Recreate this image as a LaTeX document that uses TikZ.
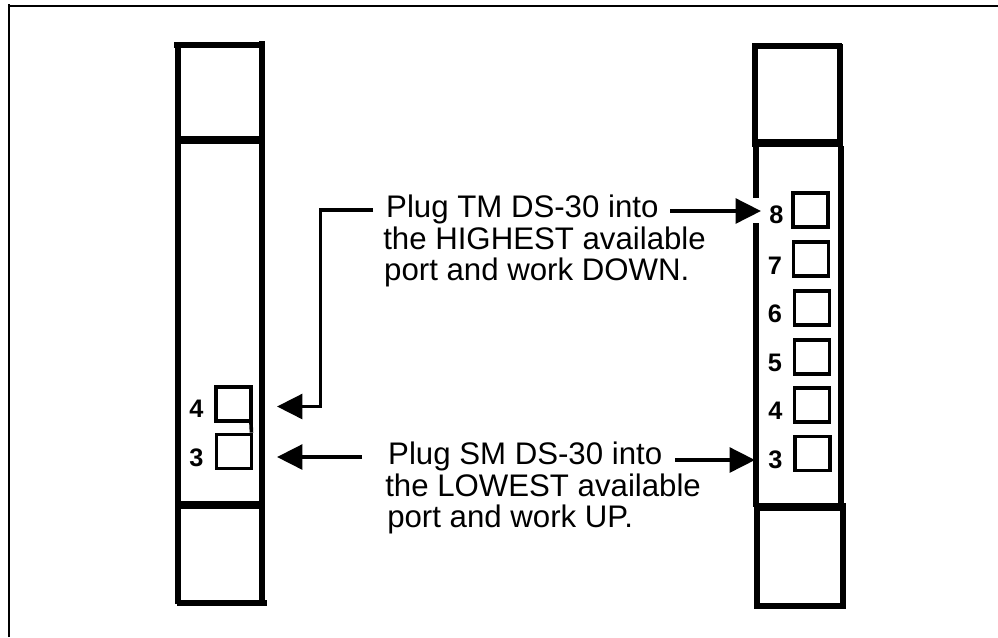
\documentclass[tikz,border=0pt]{standalone}
\usepackage{fontspec}
\setmainfont{Liberation Sans}
\usetikzlibrary{arrows.meta}
\tikzset{
  x=0.75pt,y=-0.75pt,
  frame/.style={line width=1.6pt,line cap=butt},
  rack/.style={line width=4.5pt,line cap=butt},
  divider/.style={line width=6pt,line cap=butt},
  port/.style={draw,line width=2.7pt,minimum width=26.2pt,minimum height=25.6pt,inner sep=0pt},
  num/.style={font=\bfseries\fontsize{19}{21}\selectfont,inner sep=0pt},
  note/.style={font=\fontsize{23.4}{23.4}\selectfont,align=left,inner sep=0pt,anchor=north west},
  wire/.style={line width=2.7pt,line cap=butt},
  conn/.style={wire,-{Triangle[length=19pt,width=18.5pt,sep=0pt]}}
}
\begin{document}
\begin{tikzpicture}
\useasboundingbox (0,0) rectangle (998,637);
% outer frame
\draw[frame] (9.3,637) -- (9.3,4) (8.5,6) -- (998,6);
% left rack
\draw[rack] (174,45) -- (262,45);
\draw[rack] (178,44) -- (178,604);
\draw[rack] (262,41) -- (262,604);
\draw[divider] (175,140) -- (265,140);
\draw[divider] (175,505) -- (265,505);
\draw[rack] (177,603) -- (267,603);
% right rack
\draw[rack] (752,46) -- (842,46);
\draw[rack] (754.5,44) -- (754.5,146);
\draw[rack] (756,146) -- (756,198);
\draw[rack] (756,223) -- (756,507);
\draw[rack] (757,507) -- (757,606);
\draw[rack] (839.5,44) -- (839.5,146);
\draw[rack] (840.5,146) -- (840.5,507);
\draw[rack] (842.5,507) -- (842.5,606);
\draw[divider] (752,142.5) -- (843,142.5);
\draw[divider] (754,507) -- (846,507);
\draw[rack] (754,605.5) -- (846,605.5);
% left ports
\node[port] (L4) at (233.5,404) {};
\node[port] (L3) at (234,451.5) {};
\draw[wire] ([xshift=-1.35pt]L4.south east) -- ([xshift=-1.35pt]L3.north east);
\node[num] (L4n) at (196.5,409) {4};
\node[num] (L3n) at (196.5,457.5) {3};
% right ports
\node[port] (R8) at (810.5,210) {};
\node[port] (R7) at (811,259) {};
\node[port] (R6) at (812,308) {};
\node[port] (R5) at (812,357) {};
\node[port] (R4) at (812,405) {};
\node[port] (R3) at (812.5,453.5) {};
\node[num] (R8n) at (776.5,215) {8};
\node[num] (R7n) at (775,266) {7};
\node[num] (R6n) at (775,314) {6};
\node[num] (R5n) at (775,363) {5};
\node[num] (R4n) at (775.5,411) {4};
\node[num] (R3n) at (775.5,459.5) {3};
% notes
\node[note] (T1) at (383,195) {\hspace{2.2pt}Plug TM DS-30 into\\the HIGHEST available\\\hspace{0.7pt}port and work DOWN.};
\node[note] (T2) at (385,442) {\hspace{2.2pt}Plug SM DS-30 into\\the LOWEST available\\\hspace{1.5pt}port and work UP.};
% connectors
\coordinate (A) at (320.5,210);
\coordinate (B) at (320.5,406.5);
\coordinate (C) at (277,406.5);
\coordinate (D) at (277,457);
\coordinate (E) at (362,457);
\coordinate (F0) at (670,211);
\coordinate (F) at (761,211);
\coordinate (G0) at (675,460);
\coordinate (G) at (755,460);
\coordinate (H) at (373,210);
\draw[conn] (H) -- (A) -- (B) -- (C);
\draw[conn] (E) -- (D);
\draw[conn] (F0) -- (F);
\draw[conn] (G0) -- (G);
\end{tikzpicture}
\end{document}
